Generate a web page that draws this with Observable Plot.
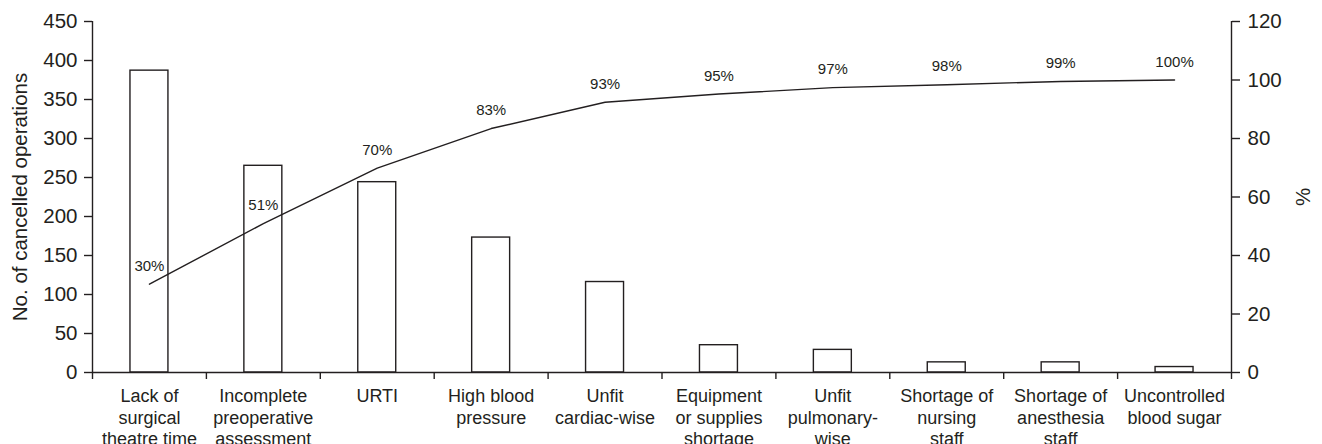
<!DOCTYPE html>
<html>
<head>
<meta charset="utf-8">
<script src="https://cdn.jsdelivr.net/npm/d3@7"></script>
<script src="https://cdn.jsdelivr.net/npm/@observablehq/plot@0.6"></script>
<style>
  html, body { margin: 0; padding: 0; background: #fff; }
  #chart svg { display: block; }
</style>
</head>
<body>
<div id="chart"></div>
<script>
const categories = [
  "Lack of\nsurgical\ntheatre time",
  "Incomplete\npreoperative\nassessment",
  "URTI",
  "High blood\npressure",
  "Unfit\ncardiac-wise",
  "Equipment\nor supplies\nshortage",
  "Unfit\npulmonary-\nwise",
  "Shortage of\nnursing\nstaff",
  "Shortage of\nanesthesia\nstaff",
  "Uncontrolled\nblood sugar"
];
const counts = [387, 265, 244, 173, 116, 35, 29, 13, 13, 7];
const cumulativePct = [30.2, 50.9, 69.9, 83.4, 92.4, 95.2, 97.4, 98.4, 99.5, 100];
const pctLabels = ["30%", "51%", "70%", "83%", "93%", "95%", "97%", "98%", "99%", "100%"];
const countTicks = [0, 50, 100, 150, 200, 250, 300, 350, 400, 450];
const pctTicks = [0, 20, 40, 60, 80, 100, 120];

const countMax = 450, pctMax = 120;
const k = countMax / pctMax; // percent -> count units for the secondary axis

const bars = counts.map((c, i) => ({i, c}));
const pts = cumulativePct.map((p, i) => ({i, p, label: pctLabels[i]}));
const cats = categories.map((name, i) => ({i, name}));
const ink = "#231f20";

const chart = Plot.plot({
  width: 1322,
  height: 444,
  marginLeft: 92,
  marginRight: 91,
  marginTop: 21,
  marginBottom: 72,
  style: {fontFamily: "'Liberation Sans', Arial, sans-serif", fontSize: "20.5px", color: ink, background: "#fff"},
  x: {type: "linear", domain: [0, categories.length], axis: null},
  y: {domain: [0, countMax], axis: null},
  marks: [
    // bars
    Plot.rectY(bars, {x1: d => d.i + 1/3, x2: d => d.i + 2/3, y: "c", fill: "white", stroke: ink, strokeWidth: 1.4}),
    // axis lines
    Plot.ruleY([0], {stroke: ink, strokeWidth: 1.4}),
    Plot.ruleX([0, categories.length], {y1: 0, y2: countMax, stroke: ink, strokeWidth: 1.4}),
    // left axis
    Plot.axisY({anchor: "left", ticks: countTicks, tickSize: 8, tickPadding: 7, fontSize: 20.5, label: null, stroke: ink, strokeWidth: 1.4}),
    // right axis (percent)
    Plot.axisY({anchor: "right", ticks: pctTicks.map(p => p * k), tickFormat: d => String(Math.round(d / k)), tickSize: 8, tickPadding: 8, fontSize: 20.5, label: null, stroke: ink, strokeWidth: 1.4}),
    // boundary ticks on x axis
    Plot.axisX({ticks: d3.range(0, categories.length + 1), tickSize: 7, tickFormat: () => "", label: null, stroke: ink, strokeWidth: 1.4}),
    // category labels
    Plot.text(cats, {x: d => d.i + 0.5, y: 0, text: "name", dy: 15, lineAnchor: "top", lineHeight: 1.17, fontSize: 18, fill: ink}),
    // cumulative line
    Plot.line(pts, {x: d => d.i + 0.5, y: d => d.p * k, stroke: ink, strokeWidth: 1.4}),
    Plot.text(pts, {x: d => d.i + 0.5, y: d => d.p * k, text: "label", dy: -18, fontSize: 15, fill: ink}),
    // axis titles
    Plot.text(["No. of cancelled operations"], {frameAnchor: "left", textAnchor: "middle", dx: -72, rotate: -90, fontSize: 20.5, fill: ink}),
    Plot.text(["%"], {frameAnchor: "right", textAnchor: "middle", dx: 72, rotate: -90, fontSize: 20.5, fill: ink})
  ]
});
document.getElementById("chart").appendChild(chart);
</script>
</body>
</html>
